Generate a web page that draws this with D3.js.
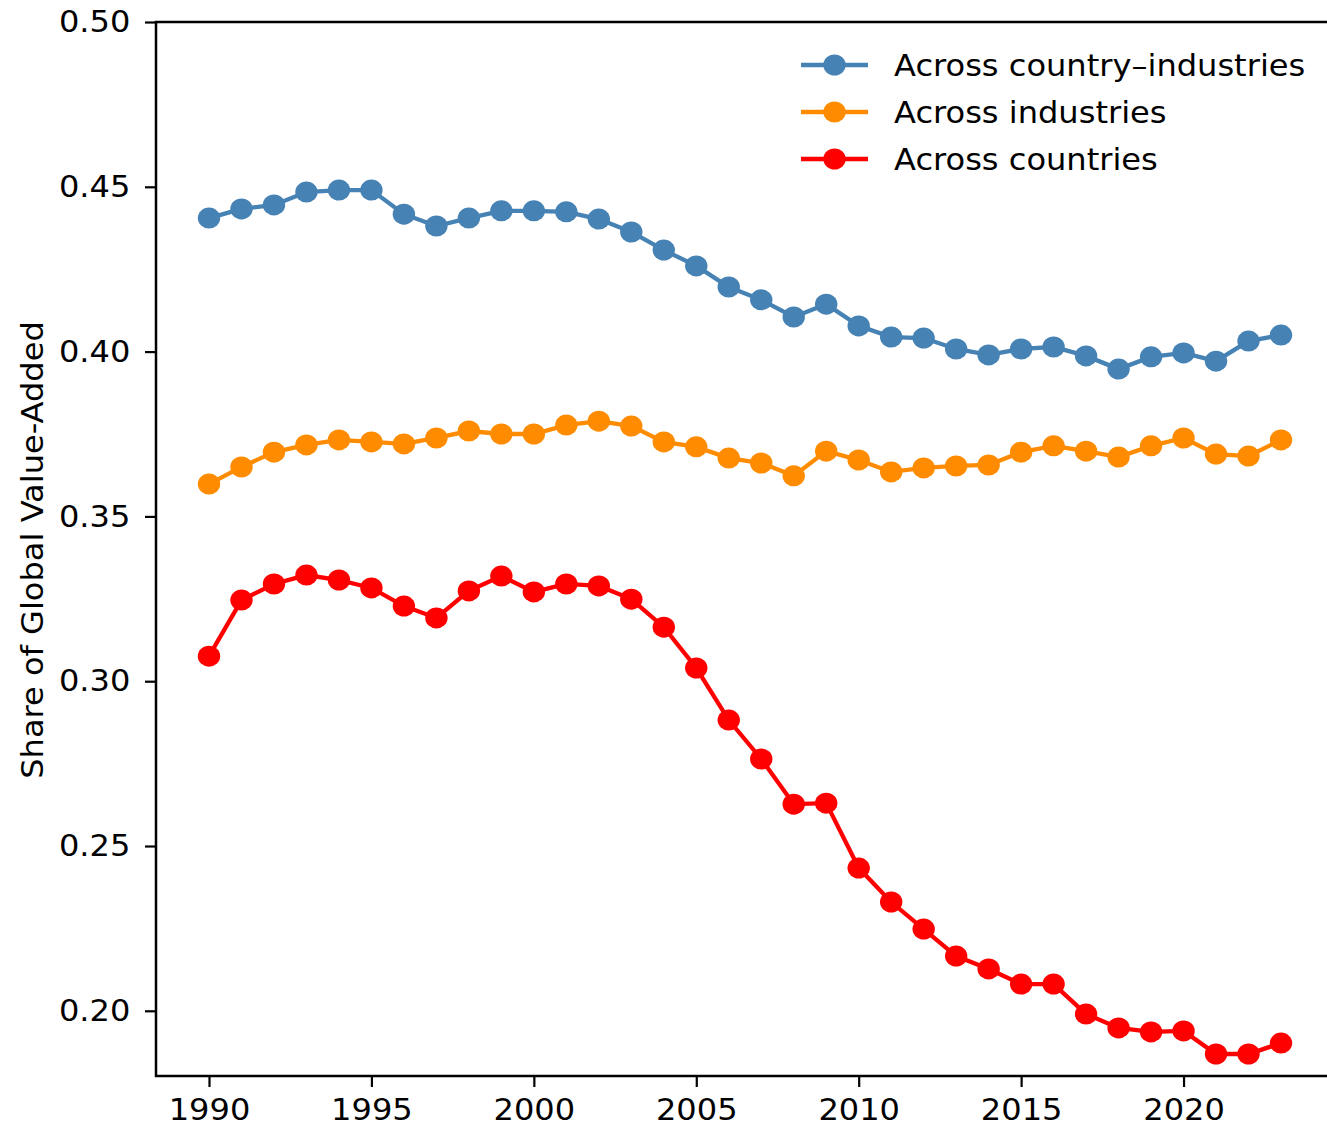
<!DOCTYPE html>
<html>
<head>
<meta charset="utf-8">
<script src="https://cdn.jsdelivr.net/npm/d3@7"></script>
<style>
  body { margin: 0; background: #fff; }
  svg { display: block; font-family: "DejaVu Sans", sans-serif; }
</style>
</head>
<body>
<div id="chart"></div>
<script>
// Daten
const years = d3.range(1990, 2024);
const countryIndustries = [
  0.4405, 0.4433, 0.4445, 0.4484, 0.4490, 0.4490, 0.4417, 0.4381, 0.4405, 0.4427,
  0.4427, 0.4424, 0.4402, 0.4363, 0.4308, 0.4260, 0.4196, 0.4157, 0.4105, 0.4144,
  0.4078, 0.4044, 0.4041, 0.4008, 0.3990, 0.4008, 0.4014, 0.3987, 0.3947, 0.3984,
  0.3996, 0.3971, 0.4032, 0.4050
];
const industries = [
  0.3598, 0.3650, 0.3695, 0.3717, 0.3732, 0.3726, 0.3720, 0.3738, 0.3759, 0.3750,
  0.3750, 0.3777, 0.3789, 0.3774, 0.3726, 0.3711, 0.3677, 0.3662, 0.3623, 0.3698,
  0.3671, 0.3635, 0.3647, 0.3653, 0.3656, 0.3695, 0.3714, 0.3698, 0.3680, 0.3714,
  0.3738, 0.3689, 0.3683, 0.3732
];
const countries = [
  0.3076, 0.3246, 0.3295, 0.3322, 0.3307, 0.3283, 0.3228, 0.3192, 0.3274, 0.3319,
  0.3271, 0.3295, 0.3289, 0.3249, 0.3164, 0.3040, 0.2882, 0.2764, 0.2627, 0.2630,
  0.2433, 0.2330, 0.2248, 0.2166, 0.2127, 0.2081, 0.2081, 0.1990, 0.1948, 0.1936,
  0.1939, 0.1869, 0.1869, 0.1902
];
const seriesNames = ["Across country\u2013industries", "Across industries", "Across countries"];
const seriesColors = ["#4682b4", "#ff8c00", "#ff0000"];
const yTicks = [0.20, 0.25, 0.30, 0.35, 0.40, 0.45, 0.50];
const xTicks = [1990, 1995, 2000, 2005, 2010, 2015, 2020];

const series = [countryIndustries, industries, countries].map((vals, i) => ({
  name: seriesNames[i],
  color: seriesColors[i],
  points: vals.map((v, j) => ({ year: years[j], value: v }))
}));

const width = 1327, height = 1130;
const plot = { left: 156, top: 22, right: 1345, bottom: 1076 };
const fontSize = "30px";
const stretch = "scale(1.07,1)"; // Vorlage ist leicht in die Breite gezogen

const svg = d3.select("#chart")
  .append("svg")
  .attr("width", width)
  .attr("height", height);

const x = d3.scaleLinear()
  .domain([1990, 2023])
  .range([209, 1281]);

const y = d3.scaleLinear()
  .domain([0.50, 0.20])
  .range([22, 1010.8]);

// Achsen
const xAxis = g => g
  .attr("transform", `translate(0,${plot.bottom})`)
  .call(d3.axisBottom(x).tickValues(xTicks).tickFormat(d3.format("d")).tickSizeOuter(0).tickSize(11).tickPadding(12))
  .attr("font-family", "DejaVu Sans")
  .call(g => g.select(".domain").remove())
  .call(g => g.selectAll("line").attr("stroke", "#000").attr("stroke-width", 2.2))
  .selectAll("text")
  .attr("fill", "#000")
  .attr("transform", stretch)
  .style("font-size", fontSize);

const yAxis = g => g
  .attr("transform", `translate(${plot.left},0)`)
  .call(d3.axisLeft(y).tickValues(yTicks).tickFormat(d3.format(".2f")).tickSizeOuter(0).tickSize(11).tickPadding(13))
  .attr("font-family", "DejaVu Sans")
  .call(g => g.select(".domain").remove())
  .call(g => g.selectAll("line").attr("stroke", "#000").attr("stroke-width", 2.2))
  .selectAll("text")
  .attr("fill", "#000")
  .attr("transform", stretch)
  .style("font-size", fontSize);

svg.append("g").call(xAxis);
svg.append("g").call(yAxis);

// Rahmen
svg.append("rect")
  .attr("x", plot.left)
  .attr("y", plot.top)
  .attr("width", plot.right - plot.left)
  .attr("height", plot.bottom - plot.top)
  .attr("fill", "none")
  .attr("stroke", "#000")
  .attr("stroke-width", 2.5);

svg.append("text")
  .attr("transform", `translate(43,${(plot.top + plot.bottom) / 2 + 1}) rotate(-90) ${stretch}`)
  .attr("text-anchor", "middle")
  .style("font-size", fontSize)
  .text("Share of Global Value-Added");

// Linien und Punkte
const line = d3.line()
  .x(d => x(d.year))
  .y(d => y(d.value));

series.forEach(s => {
  const g = svg.append("g");
  g.append("path")
    .datum(s.points)
    .attr("d", line)
    .attr("fill", "none")
    .attr("stroke", s.color)
    .attr("stroke-width", 4.3);
  g.selectAll("ellipse")
    .data(s.points)
    .enter()
    .append("ellipse")
    .attr("cx", d => x(d.year))
    .attr("cy", d => y(d.value))
    .attr("rx", 11.2)
    .attr("ry", 10.5)
    .attr("fill", s.color);
});

// Legende
const legend = svg.append("g").attr("transform", "translate(801,65)");
series.forEach((s, i) => {
  const row = legend.append("g").attr("transform", `translate(0,${i * 47})`);
  row.append("line")
    .attr("x1", 0).attr("x2", 67)
    .attr("stroke", s.color)
    .attr("stroke-width", 4.3);
  row.append("ellipse")
    .attr("cx", 33.5)
    .attr("rx", 11.2)
    .attr("ry", 10.5)
    .attr("fill", s.color);
  row.append("text")
    .attr("transform", `translate(93,0) ${stretch}`)
    .attr("dy", "0.35em")
    .style("font-size", fontSize)
    .text(s.name);
});
</script>
</body>
</html>
